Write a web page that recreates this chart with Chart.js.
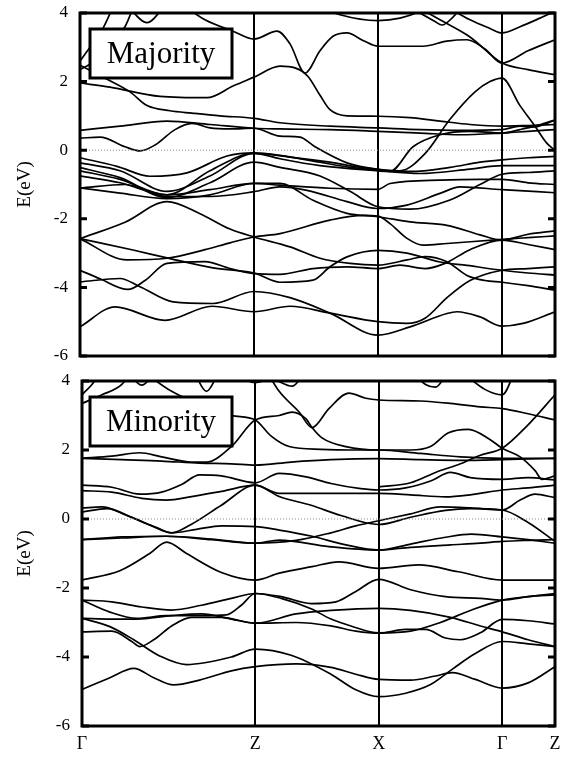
<!DOCTYPE html>
<html>
<head>
<meta charset="utf-8">
<script src="https://cdn.jsdelivr.net/npm/chart.js@4.4.0/dist/chart.umd.min.js"></script>
<style>
  body { margin: 0; background: #fff; }
  #wrap { position: relative; width: 569px; height: 758px; }
  canvas { position: absolute; left: 0; }
  #majority { top: 0; }
  #minority { top: 368px; }
</style>
</head>
<body>
<div id="wrap">
  <canvas id="majority" width="569" height="368"></canvas>
  <canvas id="minority" width="569" height="390"></canvas>
</div>
<script>
// k-path: high symmetry points and their labels
const kNodes = [0, 174, 298, 422, 475];
const kLabels = ['Γ', 'Z', 'X', 'Γ', 'Z'];
const eTicks = [4, 2, 0, -2, -4, -6];
const fermiLine = [[0, 0], [475, 0]];

// majority spin bands, [k, E(eV)]
const majorityBands = [
  [[0,-5.15],[35,-4.57],[85,-4.96],[132,-4.55],[174,-4.71],[210,-4.55],[250,-4.75],[298,-5.0],[327,-5.05],[345,-4.9],[367,-4.3],[390,-3.8],[422,-3.5],[448,-3.45],[475,-3.4]],
  [[0,-3.84],[40,-3.74],[60,-3.98],[93,-4.42],[133,-4.47],[174,-4.12],[210,-4.3],[250,-4.75],[298,-5.39],[330,-5.15],[367,-4.76],[377,-4.71],[400,-4.86],[422,-5.13],[443,-5.05],[475,-4.71]],
  [[0,-3.5],[20,-3.75],[48,-4.06],[65,-3.8],[87,-3.3],[125,-3.25],[150,-3.45],[174,-3.6],[200,-3.62],[233,-3.45],[267,-3.4],[298,-3.45],[320,-3.35],[345,-3.45],[365,-3.3],[390,-2.9],[422,-2.62],[448,-2.75],[475,-2.9]],
  [[0,-2.58],[53,-2.91],[87,-3.14],[133,-3.43],[174,-3.58],[200,-3.85],[233,-3.79],[250,-3.4],[267,-3.11],[298,-2.92],[327,-3.0],[360,-3.26],[387,-3.36],[422,-3.5],[448,-3.58],[475,-3.64]],
  [[0,-2.58],[47,-3.2],[87,-3.15],[125,-2.9],[150,-2.7],[174,-2.53],[200,-2.43],[250,-2.04],[283,-1.9],[298,-1.92],[310,-2.14],[327,-2.57],[343,-2.77],[367,-2.72],[422,-2.6],[448,-2.55],[475,-2.5]],
  [[0,-2.58],[45,-2.1],[87,-1.5],[120,-1.85],[150,-2.3],[174,-2.53],[210,-2.82],[240,-3.15],[270,-3.3],[298,-3.35],[327,-3.2],[345,-3.1],[367,-3.25],[387,-3.65],[405,-3.8],[422,-3.85],[448,-3.95],[475,-4.08]],
  [[0,-1.1],[45,-1.0],[87,-1.35],[130,-1.35],[174,-1.21],[200,-1.07],[227,-1.17],[267,-1.5],[297,-1.7],[327,-1.6],[360,-1.26],[380,-1.07],[422,-1.15],[475,-1.24]],
  [[0,-1.1],[40,-1.25],[87,-1.41],[130,-1.3],[174,-0.97],[200,-0.97],[233,-1.46],[267,-1.84],[298,-1.94],[330,-2.09],[367,-2.19],[400,-2.47],[422,-2.62],[448,-2.45],[475,-2.35]],
  [[0,-0.75],[40,-0.95],[87,-1.3],[130,-1.15],[174,-0.97],[200,-1.02],[250,-1.11],[298,-1.14],[310,-0.97],[360,-0.87],[400,-0.85],[422,-0.85],[448,-0.95],[475,-1.0]],
  [[0,-0.51],[40,-0.8],[87,-1.38],[130,-0.95],[174,-0.35],[200,-0.5],[240,-0.75],[270,-1.2],[298,-1.65],[330,-1.72],[370,-1.45],[400,-1.0],[422,-0.7],[448,-0.65],[475,-0.6]],
  [[0,-0.37],[40,-0.6],[87,-1.2],[130,-0.75],[174,-0.09],[200,-0.25],[240,-0.45],[298,-0.6],[340,-0.68],[390,-0.55],[422,-0.45],[475,-0.45]],
  [[0,-0.22],[37,-0.47],[70,-0.76],[107,-0.66],[147,-0.17],[174,-0.08],[200,-0.15],[240,-0.35],[270,-0.5],[298,-0.58],[330,-0.62],[370,-0.5],[400,-0.35],[422,-0.28],[448,-0.22],[475,-0.18]],
  [[0,-0.6],[40,-0.85],[87,-1.3],[130,-0.6],[174,-0.09],[210,-0.2],[250,-0.35],[280,-0.5],[298,-0.56],[310,-0.62],[333,0.1],[360,0.45],[390,0.55],[422,0.5],[440,0.6],[455,0.7],[475,0.88]],
  [[0,0.35],[20,0.38],[45,0.1],[60,-0.02],[75,0.15],[95,0.6],[112,0.78],[130,0.65],[150,0.62],[174,0.64],[200,0.41],[220,0.38],[235,0.1],[267,-0.37],[298,-0.56],[320,-0.6],[345,-0.1],[370,0.9],[395,1.7],[410,2.0],[422,2.1],[440,1.3],[455,0.7],[467,0.2],[475,0.0]],
  [[0,0.58],[40,0.7],[87,0.85],[130,0.75],[174,0.64],[200,0.62],[250,0.6],[298,0.55],[340,0.5],[380,0.45],[422,0.5],[448,0.55],[475,0.6]],
  [[0,2.48],[25,2.1],[50,1.7],[67,1.3],[90,1.15],[112,1.08],[140,1.0],[174,0.93],[200,0.8],[250,0.7],[298,0.65],[340,0.6],[380,0.58],[422,0.6],[440,0.7],[455,0.68],[475,0.88]],
  [[0,1.96],[30,1.84],[80,1.57],[127,1.53],[153,1.87],[174,2.13],[200,2.45],[215,2.4],[228,2.15],[240,1.6],[250,1.18],[267,1.0],[298,0.99],[330,0.95],[360,0.85],[390,0.75],[422,0.7],[448,0.72],[475,0.75]],
  [[100,4.3],[125,3.8],[153,3.47],[174,3.24],[197,3.47],[210,3.1],[225,2.25],[240,2.9],[253,3.32],[267,3.42],[283,3.2],[298,3.03],[317,3.03],[343,3.03],[367,3.18],[387,3.22],[405,2.95],[422,2.54],[448,2.9],[475,3.22]],
  [[330,4.3],[360,3.8],[390,3.3],[422,2.54],[448,2.35],[475,2.2]],
  [[360,4.3],[390,3.8],[410,3.55],[422,3.42],[440,3.6],[460,3.85],[475,4.05]],
  [[320,4.3],[340,4.0],[355,3.75],[362,3.65],[372,3.85],[385,4.3]],
  [[230,4.3],[260,3.95],[298,3.78],[320,3.85],[340,4.05],[355,4.3]],
  [[45,4.3],[67,3.72],[87,4.3]],
  [[0,2.6],[10,3.0],[22,3.5],[35,4.3]],
  [[0,2.35],[15,2.6],[30,3.1],[45,3.6],[55,4.3]]
];

// minority spin bands, [k, E(eV)]
const minorityBands = [
  [[0,-4.94],[28,-4.6],[52,-4.33],[72,-4.6],[92,-4.81],[118,-4.67],[150,-4.4],[174,-4.28],[215,-4.2],[250,-4.3],[275,-4.5],[298,-4.65],[330,-4.67],[355,-4.55],[372,-4.45],[395,-4.65],[422,-4.9],[448,-4.75],[475,-4.28]],
  [[0,-2.88],[28,-3.12],[52,-3.5],[78,-3.97],[105,-4.22],[150,-4.0],[174,-3.77],[210,-3.95],[250,-4.5],[275,-4.95],[298,-5.15],[325,-5.05],[350,-4.8],[372,-4.35],[395,-3.9],[422,-3.55],[448,-3.62],[475,-3.7]],
  [[0,-3.27],[30,-3.25],[50,-3.55],[58,-3.7],[72,-3.5],[90,-3.1],[110,-2.85],[140,-2.85],[174,-3.02],[215,-3.0],[250,-3.1],[275,-3.25],[298,-3.31],[325,-3.2],[345,-3.2],[365,-3.45],[380,-3.5],[400,-3.3],[422,-2.91],[448,-2.95],[475,-3.04]],
  [[0,-2.88],[30,-2.9],[55,-2.9],[90,-2.8],[120,-2.75],[150,-2.9],[174,-3.02],[215,-2.75],[250,-2.65],[298,-2.59],[330,-2.65],[370,-2.85],[400,-3.1],[422,-3.27],[448,-3.5],[475,-3.7]],
  [[0,-2.35],[30,-2.4],[60,-2.55],[90,-2.64],[120,-2.5],[150,-2.3],[174,-2.16],[200,-2.3],[230,-2.6],[250,-2.9],[270,-3.1],[298,-3.3],[330,-3.25],[360,-3.0],[390,-2.65],[422,-2.35],[448,-2.25],[475,-2.2]],
  [[0,-2.35],[28,-2.7],[55,-2.88],[85,-2.8],[120,-2.8],[145,-2.78],[160,-2.5],[174,-2.16],[200,-2.25],[230,-2.45],[255,-2.4],[275,-2.1],[298,-1.75],[330,-2.05],[365,-2.25],[400,-2.3],[422,-2.35],[448,-2.25],[475,-2.16]],
  [[0,-1.77],[38,-1.5],[68,-1.0],[85,-0.67],[105,-1.0],[140,-1.55],[174,-1.77],[198,-1.57],[231,-1.38],[258,-1.24],[298,-1.43],[338,-1.33],[378,-1.53],[422,-1.77],[448,-1.77],[475,-1.77]],
  [[0,-0.6],[40,-0.55],[85,-0.5],[130,-0.58],[174,-0.7],[198,-0.61],[248,-0.8],[298,-0.9],[330,-0.82],[370,-0.75],[400,-0.7],[422,-0.65],[448,-0.62],[475,-0.6]],
  [[0,0.32],[20,0.35],[45,0.1],[70,-0.2],[90,-0.4],[115,-0.3],[140,-0.2],[174,-0.22],[198,-0.32],[231,-0.5],[265,-0.75],[298,-0.9],[331,-0.72],[365,-0.53],[391,-0.44],[422,-0.52],[448,-0.6],[475,-0.7]],
  [[0,0.2],[25,0.3],[50,0.05],[75,-0.25],[90,-0.4],[110,-0.15],[140,0.4],[174,0.98],[198,0.65],[230,0.4],[260,0.1],[298,-0.16],[330,0.05],[365,0.25],[390,0.3],[422,0.26],[448,-0.1],[475,-0.65]],
  [[0,-0.6],[40,-0.52],[85,-0.5],[130,-0.6],[174,-0.7],[215,-0.62],[250,-0.4],[275,-0.2],[298,-0.05],[330,0.15],[360,0.35],[390,0.32],[422,0.26],[440,0.55],[455,0.72],[475,0.62]],
  [[0,0.82],[30,0.78],[60,0.6],[85,0.55],[110,0.65],[140,0.8],[174,0.98],[198,0.74],[250,0.74],[298,0.74],[330,0.7],[365,0.64],[390,0.7],[422,0.84],[448,0.9],[475,0.98]],
  [[0,0.98],[30,0.92],[58,0.72],[80,0.78],[100,1.0],[118,1.28],[140,1.25],[174,1.05],[198,1.32],[225,1.22],[250,1.03],[280,0.88],[298,0.84],[325,0.9],[350,1.1],[370,1.35],[390,1.2],[422,1.15],[448,1.2],[475,1.13]],
  [[298,0.93],[330,1.05],[355,1.35],[380,1.6],[400,1.85],[422,2.05],[447,2.7],[475,3.6]],
  [[0,1.76],[40,1.72],[80,1.68],[118,1.62],[150,1.6],[174,1.56],[210,1.65],[250,1.72],[298,1.75],[340,1.72],[380,1.7],[422,1.72],[448,1.74],[475,1.76]],
  [[0,1.76],[30,1.82],[58,1.92],[80,1.8],[110,1.65],[125,1.65],[150,2.1],[174,2.87],[198,3.0],[211,3.1],[225,2.9],[231,2.65],[241,2.35],[265,2.1],[298,2.0],[330,2.0],[350,2.1],[368,2.5],[388,2.6],[410,2.3],[422,2.05],[440,1.8],[455,1.4],[462,1.15],[475,1.25]],
  [[60,4.3],[90,3.7],[120,3.3],[150,3.0],[174,2.87],[190,2.4],[208,2.1],[240,2.02],[270,2.0],[298,2.0],[340,1.9],[380,1.8],[422,1.76],[448,1.76],[475,1.76]],
  [[185,4.3],[198,3.7],[218,3.1],[231,2.65],[248,3.2],[268,3.65],[285,3.5],[298,3.45],[340,3.42],[370,3.35],[400,3.25],[422,3.2],[448,3.05],[475,2.87]],
  [[0,3.35],[20,3.6],[40,3.9],[50,4.3]],
  [[0,3.6],[10,3.9],[20,4.3]],
  [[45,4.3],[60,3.88],[75,4.3]],
  [[112,4.3],[125,3.7],[138,4.3]],
  [[150,4.3],[174,3.95],[190,4.05],[211,3.85],[225,4.3]],
  [[330,4.3],[345,3.9],[355,3.82],[368,4.3]],
  [[380,4.3],[405,3.75],[422,3.6],[435,4.3]]
];

// frame, inner tick marks and the spin label box
const panelFrame = {
  id: 'panelFrame',
  afterDatasetsDraw(chart, args, opts) {
    const { ctx, chartArea: a, scales: { y } } = chart;
    ctx.save();
    ctx.strokeStyle = '#000';
    ctx.lineWidth = 3;
    eTicks.forEach(v => {
      const py = y.getPixelForValue(v);
      ctx.beginPath();
      ctx.moveTo(a.left, py); ctx.lineTo(a.left + 7, py);
      ctx.moveTo(a.right - 7, py); ctx.lineTo(a.right, py);
      ctx.stroke();
    });
    ctx.strokeRect(a.left, a.top, a.right - a.left, a.bottom - a.top);
    // label box
    const bx = 90, by = a.top + 16, bw = 142, bh = 49;
    ctx.fillStyle = '#fff';
    ctx.fillRect(bx, by, bw, bh);
    ctx.strokeRect(bx, by, bw, bh);
    ctx.fillStyle = '#000';
    ctx.font = '31px "Liberation Serif"';
    ctx.textAlign = 'center';
    ctx.textBaseline = 'middle';
    ctx.fillText(opts.label, bx + bw / 2, by + bh / 2 + 1);
    ctx.restore();
  }
};

function makePanel(id, bands, label, showX, leftW) {
  const datasets = [{
    data: fermiLine.map(([k, e]) => ({ x: k, y: e })),
    borderColor: '#888', borderWidth: 1, borderDash: [1, 2], pointRadius: 0
  }];
  bands.forEach(b => {
    datasets.push({
      data: b.map(([k, e]) => ({ x: k, y: e })),
      borderColor: '#000', borderWidth: 1.7, pointRadius: 0,
      cubicInterpolationMode: 'monotone', fill: false
    });
  });

  return new Chart(document.getElementById(id), {
    type: 'line',
    data: { datasets },
    plugins: [panelFrame],
    options: {
      responsive: false,
      animation: false,
      layout: { padding: { top: 13, right: 14, bottom: showX ? 0 : 12, left: 0 } },
      plugins: {
        legend: { display: false },
        tooltip: { enabled: false },
        panelFrame: { label }
      },
      scales: {
        x: {
          type: 'linear', min: 0, max: 475,
          afterBuildTicks: s => { s.ticks = kNodes.map(v => ({ value: v })); },
          grid: {
            color: c => (c.index > 0 && c.index < kNodes.length - 1) ? '#000' : 'rgba(0,0,0,0)',
            lineWidth: 2, drawTicks: false
          },
          border: { display: false },
          ticks: {
            display: showX, padding: 7, color: '#000', autoSkip: false, maxRotation: 0,
            font: { family: 'Liberation Serif', size: 18 },
            callback: (v, i) => kLabels[i]
          },
          afterFit: s => {
            s.height = showX ? 32 : 0;
            s.paddingLeft = 0; s.paddingRight = 0;
          }
        },
        y: {
          min: -6, max: 4,
          afterBuildTicks: s => { s.ticks = eTicks.map(v => ({ value: v })); },
          grid: { display: false, drawTicks: false },
          border: { display: false },
          ticks: { padding: 12, color: '#000', font: { family: 'Liberation Serif', size: 17 } },
          title: {
            display: true, text: 'E(eV)', color: '#000',
            font: { family: 'Liberation Serif', size: 19 },
            padding: { top: 14, bottom: 0 }
          },
          afterFit: s => {
            s.width = leftW;
            s.paddingTop = 0; s.paddingBottom = 0;
          }
        }
      }
    }
  });
}

makePanel('majority', majorityBands, 'Majority', false, 80);
makePanel('minority', minorityBands, 'Minority', true, 82);
</script>
</body>
</html>
